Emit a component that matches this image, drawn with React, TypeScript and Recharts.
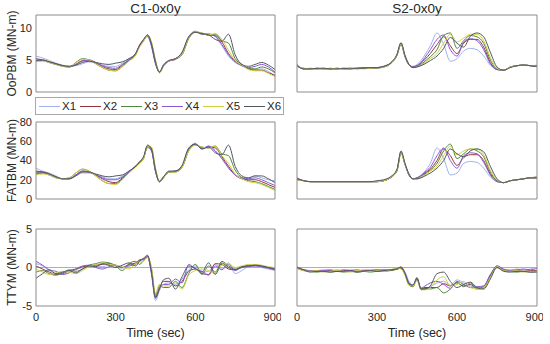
import React from "react";
import { LineChart, Line, XAxis, YAxis, ReferenceLine } from "recharts";

// sample times (sec), denser around the sharp peak
const time = [0, 25, 50, 75, 100, 125, 150, 175, 200, 225, 250, 275, 300, 325, 350, 375, 390, 405, 420, 435, 450, 465, 480, 500, 525, 550, 575, 600, 625, 650, 675, 700, 725, 750, 775, 800, 825, 850, 875, 900];

const seriesNames = ["X1", "X2", "X3", "X4", "X5", "X6"];
const seriesColors = ["#9db3ec", "#963442", "#4e8a3e", "#8a58d6", "#d0d040", "#52575f"];

const titles = ["C1-0x0y", "S2-0x0y"];
const yLabels = ["OoPBM (MN-m)", "FATBM (MN-m)", "TTYM (MN-m)"];
const oopTicks = [0, 5, 10];
const fatTicks = [0, 20, 40, 60, 80];
const ttyTicks = [-5, 0, 5];
const xLabelTicks = [0, 300, 600, 900];
const xMinorTicks = [0, 100, 200, 300, 400, 500, 600, 700, 800, 900];

// C1-0x0y  OoPBM
const c1OopX1 = [5.6, 5.3, 4.9, 4.5, 4.2, 4.0, 4.1, 4.4, 4.7, 4.5, 4.2, 4.0, 4.0, 4.5, 5.2, 6.0, 7.2, 8.0, 8.6, 7.0, 4.3, 3.2, 4.3, 4.9, 5.2, 6.0, 8.6, 9.5, 9.0, 9.1, 8.6, 7.2, 5.6, 4.6, 4.1, 3.7, 3.5, 3.6, 3.2, 2.5];
const c1OopX2 = [5.2, 5.0, 4.7, 4.4, 4.1, 3.9, 4.3, 4.9, 5.0, 4.6, 4.0, 3.6, 3.5, 4.2, 5.0, 5.9, 7.3, 8.1, 8.8, 7.3, 4.5, 3.1, 4.1, 4.8, 5.1, 5.9, 8.4, 9.4, 9.1, 8.9, 8.8, 7.8, 6.0, 4.8, 4.2, 3.6, 3.4, 3.4, 3.0, 2.6];
const c1OopX3 = [4.8, 4.9, 4.6, 4.3, 4.0, 3.9, 4.6, 5.2, 5.0, 4.4, 3.8, 3.4, 3.3, 4.0, 4.9, 5.8, 7.1, 8.0, 8.9, 7.6, 4.8, 3.0, 4.0, 4.8, 5.2, 5.8, 8.3, 9.3, 9.2, 8.8, 9.0, 8.0, 7.6, 5.2, 4.3, 3.7, 3.6, 3.9, 3.6, 3.0];
const c1OopX4 = [5.0, 4.9, 4.6, 4.3, 4.1, 4.0, 4.3, 4.8, 4.9, 4.5, 4.1, 3.8, 3.7, 4.3, 5.0, 5.9, 7.2, 8.1, 8.7, 7.2, 4.5, 3.1, 4.1, 4.8, 5.1, 6.1, 8.6, 9.4, 9.0, 9.0, 8.7, 7.4, 5.8, 4.7, 4.1, 3.8, 4.0, 4.3, 3.9, 3.1];
const c1OopX5 = [4.7, 4.8, 4.6, 4.3, 4.0, 3.9, 4.5, 5.1, 5.0, 4.4, 3.8, 3.4, 3.3, 3.9, 4.8, 5.7, 7.0, 7.9, 8.8, 7.8, 5.0, 3.1, 4.0, 4.8, 5.2, 5.9, 8.4, 9.4, 9.2, 8.9, 9.1, 8.2, 6.5, 4.9, 4.2, 3.5, 3.3, 3.3, 2.9, 2.4];
const c1OopX6 = [4.9, 5.0, 4.7, 4.4, 4.1, 4.0, 4.2, 4.6, 4.8, 4.6, 4.4, 4.3, 4.5, 4.7, 5.2, 6.0, 7.3, 8.2, 8.9, 7.5, 4.7, 3.1, 4.2, 4.9, 5.2, 6.2, 8.6, 9.3, 9.1, 8.9, 8.2, 7.9, 9.0, 5.8, 4.3, 4.0, 4.3, 4.6, 4.2, 3.5];

// C1-0x0y  FATBM
const c1FatX1 = [32, 29, 27, 24, 21, 21, 24, 27, 27, 25, 23, 21, 21, 24, 29, 34, 38, 43, 53, 50, 28, 19, 23, 28, 29, 34, 52, 58, 52, 55, 50, 42, 33, 25, 22, 22, 24, 22, 20, 19];
const c1FatX2 = [29, 28, 26, 23, 21, 21, 25, 29, 28, 25, 21, 18, 17, 22, 28, 34, 38, 43, 55, 51, 29, 18, 22, 28, 29, 33, 51, 57, 53, 54, 53, 44, 34, 25, 21, 20, 20, 18, 15, 12];
const c1FatX3 = [26, 27, 25, 22, 21, 22, 27, 31, 29, 24, 19, 16, 16, 21, 28, 34, 37, 42, 55, 53, 31, 18, 22, 28, 28, 33, 50, 56, 54, 53, 55, 47, 45, 30, 22, 19, 18, 16, 13, 10];
const c1FatX4 = [27, 27, 25, 23, 21, 21, 25, 29, 28, 25, 22, 20, 20, 23, 28, 34, 38, 43, 54, 50, 29, 18, 23, 28, 29, 34, 52, 57, 52, 55, 50, 42, 32, 25, 22, 21, 22, 20, 17, 14];
const c1FatX5 = [25, 26, 25, 22, 21, 22, 27, 31, 29, 24, 19, 16, 15, 20, 27, 33, 37, 42, 55, 54, 32, 18, 22, 28, 28, 33, 50, 56, 54, 53, 55, 45, 37, 26, 21, 18, 17, 15, 12, 9];
const c1FatX6 = [28, 28, 26, 23, 21, 21, 24, 28, 28, 26, 24, 23, 24, 25, 29, 34, 39, 44, 56, 52, 30, 18, 23, 29, 29, 35, 53, 57, 52, 54, 48, 46, 56, 34, 24, 22, 24, 24, 21, 17];

// C1-0x0y  TTYM
const c1TtyX1 = [0.5, 0.2, -0.4, -0.8, -0.9, -0.6, -0.3, 0.0, 0.3, 0.2, 0.1, 0.3, 0.2, -0.1, 0.3, 0.5, 0.9, 1.0, 1.3, -0.8, -4.3, -3.0, -2.2, -2.0, -2.2, -1.5, -0.3, 0.2, -0.6, -0.5, 0.4, -0.2, 0.6, -0.8, -0.4, 0.1, 0.2, 0.0, -0.2, -0.4];
const c1TtyX2 = [0.2, -0.2, -0.6, -0.9, -0.8, -0.4, -0.2, 0.1, 0.2, 0.3, 0.4, 0.5, 0.3, 0.0, 0.4, 0.6, 1.0, 1.1, 1.4, -0.5, -3.8, -2.6, -1.8, -1.8, -2.4, -1.8, -0.5, -0.2, -0.8, -0.9, 0.5, 0.4, -0.2, -0.3, 0.1, 0.2, 0.3, 0.1, 0.0, -0.2];
const c1TtyX3 = [-0.6, -0.4, -0.8, -1.0, -0.7, -0.3, -0.5, -0.2, 0.3, 0.5, 0.7, 0.6, 0.2, -0.4, 0.5, 0.8, 0.4, 0.9, 1.4, -0.2, -3.6, -2.3, -2.6, -2.6, -1.8, -2.6, -0.8, 0.4, -0.9, 0.2, -0.6, 0.8, 0.2, -0.2, 0.0, 0.3, 0.3, 0.2, 0.0, -0.1];
const c1TtyX4 = [0.8, 0.3, -0.3, -0.5, -0.9, -0.7, -0.2, 0.2, 0.3, 0.0, -0.2, 0.1, 0.3, 0.0, 0.2, 0.4, 0.9, 1.1, 1.5, -0.9, -4.0, -2.7, -2.2, -2.2, -1.5, -2.0, 0.4, -0.2, -0.5, -1.0, 0.2, -0.3, 0.4, -0.4, 0.0, 0.1, 0.2, 0.1, -0.1, -0.3];
const c1TtyX5 = [-0.2, -0.6, -0.9, -0.7, -0.5, -0.6, -0.8, -0.4, 0.1, 0.4, 0.6, 0.4, 0.3, 0.1, -0.2, 0.5, 0.7, 0.8, 1.3, 0.0, -3.4, -2.2, -2.4, -2.4, -2.0, -2.8, -1.0, -0.4, -0.2, -0.4, -0.8, 0.3, 0.5, 0.0, 0.2, 0.4, 0.4, 0.3, 0.1, 0.0];
const c1TtyX6 = [-1.4, -0.8, -0.3, -0.8, -0.6, -0.4, -0.7, -0.2, 0.2, 0.1, 0.5, 0.3, 0.0, 0.3, 0.6, 0.2, 0.8, 1.2, 1.6, -0.6, -3.9, -2.8, -1.6, -1.4, -2.8, -1.2, 0.2, -0.1, -0.6, 0.6, -0.9, 0.6, 0.0, -0.3, 0.1, 0.2, 0.3, 0.2, 0.0, -0.2];

// S2-0x0y  OoPBM
const s2OopX1 = [4.2, 3.6, 3.6, 3.7, 3.6, 3.6, 3.6, 3.6, 3.7, 3.7, 3.7, 3.7, 3.8, 3.9, 4.4, 5.8, 7.6, 5.5, 4.2, 4.0, 4.3, 4.9, 5.8, 7.2, 9.2, 7.4, 4.8, 5.2, 6.4, 6.8, 6.6, 5.6, 4.2, 3.5, 3.4, 3.9, 4.1, 4.2, 4.1, 4.0];
const s2OopX2 = [4.0, 3.7, 3.6, 3.6, 3.7, 3.6, 3.7, 3.6, 3.6, 3.7, 3.8, 3.7, 3.8, 4.0, 4.5, 5.8, 7.5, 5.6, 4.3, 3.9, 4.1, 4.5, 5.1, 6.0, 7.4, 8.6, 7.2, 6.0, 7.6, 8.2, 8.2, 7.0, 4.6, 3.5, 3.4, 3.9, 4.1, 4.2, 4.1, 4.0];
const s2OopX3 = [4.1, 3.6, 3.7, 3.6, 3.6, 3.7, 3.6, 3.7, 3.7, 3.6, 3.7, 3.8, 3.7, 3.9, 4.4, 5.7, 7.4, 5.6, 4.3, 3.9, 4.0, 4.3, 4.8, 5.5, 6.6, 8.8, 9.2, 6.8, 8.0, 8.8, 8.6, 7.6, 5.0, 3.6, 3.4, 3.9, 4.1, 4.2, 4.1, 4.1];
const s2OopX4 = [4.3, 3.6, 3.6, 3.7, 3.6, 3.6, 3.7, 3.6, 3.7, 3.7, 3.7, 3.7, 3.8, 3.9, 4.4, 5.8, 7.6, 5.5, 4.2, 3.9, 4.1, 4.6, 5.4, 6.6, 8.2, 8.9, 6.6, 5.6, 7.8, 8.3, 8.0, 6.6, 4.4, 3.5, 3.4, 3.9, 4.1, 4.2, 4.1, 4.0];
const s2OopX5 = [4.0, 3.7, 3.6, 3.6, 3.6, 3.7, 3.6, 3.6, 3.7, 3.7, 3.6, 3.7, 3.8, 3.9, 4.5, 5.8, 7.5, 5.7, 4.3, 3.8, 3.9, 4.2, 4.6, 5.2, 6.0, 7.6, 9.0, 7.8, 8.4, 9.0, 9.0, 8.0, 5.4, 3.7, 3.4, 3.9, 4.1, 4.2, 4.1, 4.2];
const s2OopX6 = [4.1, 3.6, 3.6, 3.7, 3.7, 3.6, 3.6, 3.7, 3.6, 3.7, 3.7, 3.8, 3.8, 4.0, 4.5, 5.9, 7.7, 5.7, 4.3, 3.8, 3.9, 4.1, 4.4, 4.9, 5.6, 6.8, 8.5, 7.6, 7.0, 8.7, 9.2, 8.6, 6.2, 3.9, 3.4, 3.8, 4.1, 4.2, 4.1, 4.0];

// S2-0x0y  FATBM
const s2FatX1 = [21, 19, 18, 18, 18, 18, 18, 18, 18, 18, 18, 18, 18, 19, 22, 30, 49, 36, 25, 21, 22, 25, 29, 37, 53, 42, 25, 27, 37, 39, 38, 32, 23, 18, 17, 19, 20, 21, 22, 22];
const s2FatX2 = [20, 19, 18, 18, 18, 18, 18, 18, 18, 18, 18, 18, 18, 19, 22, 30, 48, 36, 25, 21, 22, 24, 27, 31, 40, 52, 45, 35, 43, 46, 46, 40, 26, 19, 17, 19, 20, 21, 22, 22];
const s2FatX3 = [21, 19, 18, 18, 18, 18, 18, 18, 18, 18, 18, 18, 18, 19, 22, 29, 48, 36, 25, 21, 21, 23, 26, 30, 37, 50, 57, 42, 47, 52, 50, 44, 28, 19, 17, 19, 20, 21, 22, 23];
const s2FatX4 = [22, 19, 18, 18, 18, 18, 18, 18, 18, 18, 18, 18, 18, 19, 22, 30, 49, 36, 25, 21, 22, 24, 28, 33, 45, 53, 40, 32, 45, 48, 47, 38, 25, 18, 17, 19, 20, 21, 22, 22];
const s2FatX5 = [20, 19, 18, 18, 18, 18, 18, 18, 18, 18, 18, 18, 18, 19, 22, 30, 48, 36, 26, 21, 21, 23, 25, 29, 34, 45, 55, 46, 50, 52, 52, 46, 30, 20, 17, 19, 20, 21, 22, 23];
const s2FatX6 = [21, 19, 18, 18, 18, 18, 18, 18, 18, 18, 18, 18, 19, 20, 23, 31, 50, 37, 26, 21, 21, 22, 24, 27, 32, 40, 52, 47, 44, 50, 52, 49, 34, 21, 17, 19, 20, 21, 22, 22];

// S2-0x0y  TTYM
const s2TtyX1 = [0.0, -0.3, -0.4, -0.4, -0.3, -0.4, -0.3, -0.4, -0.3, -0.4, -0.3, -0.3, -0.3, -0.4, -0.3, -0.2, 0.0, -0.6, -1.8, -2.3, -1.6, -2.6, -2.7, -2.5, -2.0, -1.8, -2.3, -1.6, -2.0, -2.4, -2.6, -2.4, -1.2, 0.1, -0.3, -0.3, -0.2, -0.3, -0.2, 0.0];
const s2TtyX2 = [-0.1, -0.4, -0.5, -0.4, -0.5, -0.4, -0.5, -0.4, -0.4, -0.5, -0.4, -0.4, -0.4, -0.3, -0.4, -0.2, -0.1, -0.8, -2.2, -2.4, -1.5, -2.8, -2.6, -2.6, -2.6, -2.1, -2.4, -2.0, -2.4, -2.2, -2.7, -2.5, -1.0, 0.0, -0.4, -0.5, -0.4, -0.5, -0.4, -0.4];
const s2TtyX3 = [0.0, -0.3, -0.5, -0.6, -0.5, -0.6, -0.5, -0.6, -0.5, -0.6, -0.5, -0.6, -0.5, -0.5, -0.4, -0.2, 0.0, -0.9, -2.3, -2.5, -1.4, -2.9, -2.7, -2.8, -2.6, -3.3, -2.8, -1.9, -2.5, -2.0, -2.8, -2.7, -1.1, 0.2, -0.3, -0.5, -0.6, -0.5, -0.6, -0.5];
const s2TtyX4 = [0.1, -0.3, -0.4, -0.5, -0.4, -0.3, -0.5, -0.3, -0.4, -0.3, -0.5, -0.4, -0.3, -0.4, -0.3, -0.1, 0.0, -0.7, -2.0, -2.3, -1.5, -2.7, -2.4, -2.0, -1.8, -2.2, -2.7, -1.8, -2.2, -2.6, -2.5, -2.4, -0.9, 0.2, -0.2, -0.4, -0.3, -0.2, -0.3, -0.1];
const s2TtyX5 = [-0.1, -0.4, -0.5, -0.4, -0.6, -0.5, -0.4, -0.5, -0.6, -0.4, -0.5, -0.5, -0.4, -0.5, -0.3, -0.1, -0.2, -1.0, -2.3, -2.4, -1.7, -2.9, -2.9, -2.6, -1.6, -1.2, -2.4, -2.2, -1.8, -2.6, -2.8, -2.6, -1.3, 0.1, -0.4, -0.5, -0.4, -0.6, -0.5, -0.5];
const s2TtyX6 = [0.0, -0.3, -0.6, -0.5, -0.5, -0.6, -0.5, -0.5, -0.4, -0.6, -0.5, -0.4, -0.5, -0.4, -0.3, -0.2, 0.1, -0.8, -2.1, -2.3, -1.3, -2.8, -2.8, -2.4, -0.8, -0.6, -1.8, -2.6, -2.2, -1.9, -2.6, -2.8, -1.5, 0.0, -0.5, -0.6, -0.5, -0.5, -0.6, -0.6];

const rows = [
  { top: 15, domain: [0, 12], ticks: oopTicks, label: yLabels[0] },
  { top: 122, domain: [0, 80], ticks: fatTicks, label: yLabels[1] },
  { top: 229, domain: [-5, 5], ticks: ttyTicks, label: yLabels[2] },
];
const cols = [
  { x: 36, w: 239 },
  { x: 297, w: 240 },
];

const panels = [
  { row: 0, col: 0, series: [c1OopX1, c1OopX2, c1OopX3, c1OopX4, c1OopX5, c1OopX6] },
  { row: 0, col: 1, series: [s2OopX1, s2OopX2, s2OopX3, s2OopX4, s2OopX5, s2OopX6] },
  { row: 1, col: 0, series: [c1FatX1, c1FatX2, c1FatX3, c1FatX4, c1FatX5, c1FatX6] },
  { row: 1, col: 1, series: [s2FatX1, s2FatX2, s2FatX3, s2FatX4, s2FatX5, s2FatX6] },
  { row: 2, col: 0, series: [c1TtyX1, c1TtyX2, c1TtyX3, c1TtyX4, c1TtyX5, c1TtyX6] },
  { row: 2, col: 1, series: [s2TtyX1, s2TtyX2, s2TtyX3, s2TtyX4, s2TtyX5, s2TtyX6] },
];

const FONT = '"Liberation Sans", Arial, Helvetica, sans-serif';
const TEXT = "#262626";
const BOX = "#8c8c8c";
const PAD = 6;
const PLOT_H = 77;

function Panel({ row, col, series }: { row: number; col: number; series: number[][] }) {
  const r = rows[row];
  const c = cols[col];
  const isLeft = col === 0;
  const isBottom = row === 2;
  const yw = isLeft ? 30 : 0;
  const xh = isBottom ? 34 : 0;
  const width = PAD + yw + c.w + PAD;
  const height = PAD + PLOT_H + xh + PAD;
  const data = time.map((t, i) => {
    const o: Record<string, number> = { t };
    series.forEach((s, k) => (o[seriesNames[k]] = s[i]));
    return o;
  });
  const boxAxis = { type: "number" as const, domain: r.domain, ticks: r.ticks, allowDataOverflow: true, mirror: true, tick: false, tickSize: 3, axisLine: { stroke: BOX }, tickLine: { stroke: BOX } };

  return (
    <div style={{ position: "absolute", left: c.x - yw - PAD, top: r.top - PAD }}>
      <LineChart width={width} height={height} data={data} margin={{ top: PAD, right: PAD, bottom: PAD, left: PAD }}>
        <XAxis
          xAxisId="lab"
          dataKey="t"
          type="number"
          domain={[0, 900]}
          ticks={xLabelTicks}
          hide={!isBottom}
          height={xh}
          axisLine={false}
          tickLine={false}
          tickSize={5}
          tickMargin={2}
          tick={{ fontSize: 11, fill: TEXT, fontFamily: FONT }}
          label={{ value: "Time (sec)", position: "insideBottom", offset: 3, style: { fontSize: 12.5, fill: TEXT, fontFamily: FONT } }}
        />
        <XAxis xAxisId="b" dataKey="t" type="number" domain={[0, 900]} ticks={xMinorTicks} mirror tick={false} tickSize={3} axisLine={{ stroke: BOX }} tickLine={{ stroke: BOX }} />
        <XAxis xAxisId="tp" orientation="top" dataKey="t" type="number" domain={[0, 900]} ticks={xMinorTicks} mirror tick={false} tickSize={3} axisLine={{ stroke: BOX }} tickLine={{ stroke: BOX }} />
        <YAxis
          yAxisId="lab"
          dataKey="X1"
          type="number"
          domain={r.domain}
          ticks={r.ticks}
          allowDataOverflow
          hide={!isLeft}
          width={yw}
          axisLine={false}
          tickLine={false}
          tickSize={2}
          tickMargin={2}
          tick={{ fontSize: 11, fill: TEXT, fontFamily: FONT }}
          label={{ value: r.label, angle: -90, position: "insideLeft", offset: 6, style: { textAnchor: "middle", fontSize: 12, fill: TEXT, fontFamily: FONT } }}
        />
        <YAxis yAxisId="l" dataKey="X1" {...boxAxis} />
        <YAxis yAxisId="r" dataKey="X1" orientation="right" {...boxAxis} />
        {isBottom && <ReferenceLine xAxisId="b" yAxisId="lab" y={0} stroke="#9a9a9a" strokeWidth={0.8} />}
        {seriesNames.map((name, k) => (
          <Line
            key={name}
            xAxisId="b"
            yAxisId="lab"
            type="monotone"
            dataKey={name}
            stroke={seriesColors[k]}
            strokeWidth={1}
            dot={false}
            isAnimationActive={false}
          />
        ))}
      </LineChart>
    </div>
  );
}

export default function App() {
  return (
    <div style={{ position: "absolute", left: 0, top: 0, width: 550, height: 344, background: "#fff", fontFamily: FONT, color: TEXT, overflow: "hidden" }}>
      {titles.map((t, i) => (
        <div key={t} style={{ position: "absolute", left: cols[i].x, width: cols[i].w, top: 1, textAlign: "center", fontSize: 13.5, lineHeight: "16px" }}>
          {t}
        </div>
      ))}
      {panels.map((p) => (
        <Panel key={`${p.row}-${p.col}`} row={p.row} col={p.col} series={p.series} />
      ))}
      <div style={{ position: "absolute", left: 35, top: 97, width: 247, height: 16, border: "1px solid #a8a8a8", background: "#fff" }}>
        {seriesNames.map((name, k) => (
          <React.Fragment key={name}>
            <div style={{ position: "absolute", left: 3 + 41 * k, top: 8, width: 21, height: 0, borderTop: `1px solid ${seriesColors[k]}` }} />
            <div style={{ position: "absolute", left: 26 + 41 * k, top: 1, fontSize: 11.5, lineHeight: "14px" }}>{name}</div>
          </React.Fragment>
        ))}
      </div>
    </div>
  );
}
